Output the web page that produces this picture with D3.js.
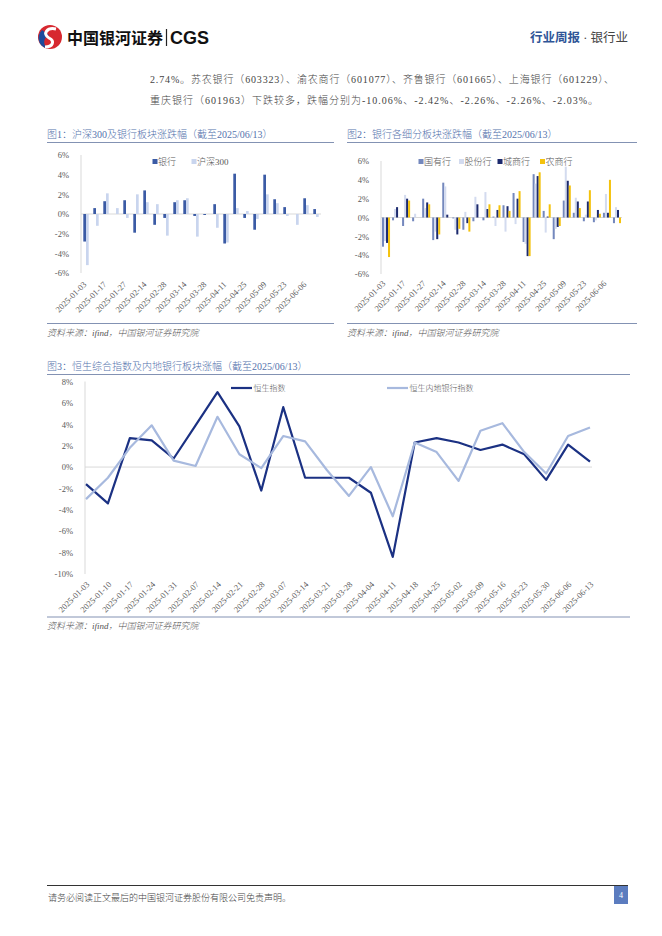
<!DOCTYPE html>
<html>
<head>
<meta charset="utf-8">
<script src="https://cdn.jsdelivr.net/npm/d3@7"></script>
<style>body{margin:0;background:#fff}</style>
</head>
<body>
<svg id="page"></svg>
<script>
// weekly dates used by the two bar charts and the line chart
var weeks = ["2025-01-03","2025-01-10","2025-01-17","2025-01-24","2025-01-27","2025-02-07","2025-02-14","2025-02-21",
  "2025-02-28","2025-03-07","2025-03-14","2025-03-21","2025-03-28","2025-04-03","2025-04-11","2025-04-18",
  "2025-04-25","2025-04-30","2025-05-09","2025-05-16","2025-05-23","2025-05-30","2025-06-06","2025-06-13"];
var weeksHK = ["2025-01-03","2025-01-10","2025-01-17","2025-01-24","2025-01-31","2025-02-07","2025-02-14","2025-02-21",
  "2025-02-28","2025-03-07","2025-03-14","2025-03-21","2025-03-28","2025-04-04","2025-04-11","2025-04-18",
  "2025-04-25","2025-05-02","2025-05-09","2025-05-16","2025-05-23","2025-05-30","2025-06-06","2025-06-13"];

// fig 1
var bank  = [-2.8,0.6,1.3,0,1.4,-1.9,2.4,-1.1,-0.4,1.2,1.4,-0.2,-0.1,1.0,-3.0,4.1,-0.4,-1.6,4.0,1.5,0.7,0,1.6,0.5];
var hs300 = [-5.2,-1.2,2.1,0.6,-0.4,2.0,1.2,1.0,-2.2,1.4,1.6,-2.3,0,-1.4,-2.9,0.6,0.3,-0.5,2.0,1.1,-0.2,-1.1,0.9,-0.3];

// fig 2
var stateBanks = [-3.1,-0.3,-0.9,-0.4,2.0,-2.4,3.7,-0.1,-1.3,-0.4,-0.3,0.1,1.3,2.6,-2.6,4.6,0.7,-2.3,1.8,0.5,-0.4,-0.5,0.5,-0.6];
var jointBanks = [-2.5,0.9,2.4,0.4,1.0,-1.5,3.3,-1.3,0.6,2.2,2.7,-0.9,-1.5,-0.7,-2.8,3.6,-1.6,-1.2,5.4,2.1,0.3,-0.3,2.5,1.1];
var cityBanks  = [-2.7,1.1,2.0,0,1.6,-2.3,0.3,-1.8,-0.6,1.4,0.9,0.8,1.2,2.0,-4.1,4.4,0.1,-1.0,3.9,1.7,1.7,0.8,0.5,0.8];
var ruralBanks = [-4.2,0,1.8,0,1.4,-1.8,0,-1.2,-1.5,0,1.4,1.3,0.7,2.8,-4.1,4.8,1.4,-0.9,3.4,1.0,2.9,0.4,4.0,-0.6];

// fig 3
var hsci = [-1.6,-3.4,2.7,2.5,0.8,3.9,7.0,3.8,-2.2,5.6,-1.0,-1.0,-1.0,-2.4,-8.4,2.3,2.7,2.3,1.6,2.1,1.2,-1.2,2.1,0.5];
var hsmb = [-3.0,-1.0,1.8,3.9,0.6,0.1,4.7,1.2,-0.1,2.9,2.4,-0.3,-2.7,0.0,-4.6,2.3,1.4,-1.3,3.4,4.1,1.4,-0.6,2.9,3.7];

var barTicks = [-6,-4,-2,0,2,4,6];
var lineTicks = [-10,-8,-6,-4,-2,0,2,4,6,8];

var font = "'Liberation Serif','Noto Sans CJK SC',serif";
var sans = "'Noto Sans CJK SC',sans-serif";
var titleColor = "#5573ad";

var svg = d3.select("#page").attr("width", 662).attr("height", 936);
svg.append("rect").attr("width", 662).attr("height", 936).attr("fill", "#fff");

// ---- header
svg.append("circle").attr("cx", 50).attr("cy", 37).attr("r", 12).attr("fill", "#d7282f");
svg.append("path").attr("d", "M42,30 C36,36 38,46 47,48.5 C43,44 43,38 49,35 Z").attr("fill", "#1e4b9c");
svg.append("path").attr("d", "M56,29 C47,27 42,34 49,38 C55,41 53,47 45,47")
  .attr("fill", "none").attr("stroke", "#fff").attr("stroke-width", 3);
svg.append("text").attr("x", 67).attr("y", 44).attr("font-family", sans).attr("font-weight", "bold")
  .attr("font-size", 16).attr("fill", "#111").text("中国银河证券");
svg.append("line").attr("x1", 166.5).attr("x2", 166.5).attr("y1", 29).attr("y2", 46).attr("stroke", "#222").attr("stroke-width", 1.2);
svg.append("text").attr("x", 170).attr("y", 44).attr("font-family", "'Liberation Sans',sans-serif").attr("font-weight", "bold")
  .attr("font-size", 18).attr("fill", "#111").text("CGS");

var rh = svg.append("text").attr("x", 530).attr("y", 42).attr("font-family", font).attr("font-size", 12.5)
  .attr("textLength", 98).attr("lengthAdjust", "spacing");
rh.append("tspan").attr("fill", "#2f5597").attr("font-weight", "bold").text("行业周报");
rh.append("tspan").attr("fill", "#444").text(" · 银行业");

// ---- paragraph
svg.append("text").attr("x", 150).attr("y", 83).attr("font-family", font).attr("font-size", 10).attr("fill", "#444")
  .attr("font-weight", 300).attr("textLength", 464).attr("lengthAdjust", "spacing")
  .text("2.74%。苏农银行（603323）、渝农商行（601077）、齐鲁银行（601665）、上海银行（601229）、");
svg.append("text").attr("x", 150).attr("y", 104).attr("font-family", font).attr("font-size", 10).attr("fill", "#444")
  .attr("font-weight", 300).attr("textLength", 448).attr("lengthAdjust", "spacing")
  .text("重庆银行（601963）下跌较多，跌幅分别为-10.06%、-2.42%、-2.26%、-2.26%、-2.03%。");

function title(x, y, x2, txt) {
  svg.append("text").attr("x", x).attr("y", y).attr("font-family", font).attr("font-size", 10)
    .attr("font-weight", 300).attr("fill", titleColor).text(txt);
  svg.append("line").attr("x1", x).attr("x2", x2).attr("y1", y + 4.5).attr("y2", y + 4.5)
    .attr("stroke", "#8392b3").attr("stroke-width", 1);
}
function source(x, y, x2) {
  svg.append("line").attr("x1", x).attr("x2", x2).attr("y1", y).attr("y2", y)
    .attr("stroke", "#8392b3").attr("stroke-width", 1);
  svg.append("text").attr("x", x).attr("y", y + 12).attr("font-family", font).attr("font-size", 9)
    .attr("font-weight", 300).attr("font-style", "italic").attr("fill", "#555").text("资料来源：ifind，中国银河证券研究院");
}

// ---- bar charts
function barChart(cfg) {
  var g = svg.append("g");
  var x = d3.scaleBand().domain(weeks).range(cfg.xr).paddingInner(cfg.pad).paddingOuter(cfg.pad / 2);
  var inner = d3.scaleBand().domain(d3.range(cfg.series.length)).range([0, x.bandwidth()]);
  var y = d3.scaleLinear().domain([-6, 6]).range(cfg.yr);

  g.append("line").attr("x1", cfg.xr[0]).attr("x2", cfg.xr[0]).attr("y1", y(6)).attr("y2", y(-6)).attr("stroke", "#d9d9d9");
  g.append("line").attr("x1", cfg.xr[0]).attr("x2", cfg.xr[1]).attr("y1", y(0)).attr("y2", y(0)).attr("stroke", "#d9d9d9");

  var yAxis = g.append("g").attr("transform", "translate(" + (cfg.xr[0] - 9) + ",0)")
    .call(d3.axisLeft(y).tickValues(barTicks).tickSize(0).tickFormat(function(d) { return d + "%"; }));
  yAxis.select(".domain").remove();
  yAxis.selectAll("text").attr("font-family", font).attr("font-size", 8.5).attr("fill", "#595959");

  cfg.series.forEach(function(s, i) {
    g.append("g").selectAll("rect").data(s.values).join("rect")
      .attr("x", function(d, j) { return x(weeks[j]) + inner(i); })
      .attr("width", inner.bandwidth())
      .attr("y", function(d) { return y(Math.max(0, d)); })
      .attr("height", function(d) { return Math.abs(y(d) - y(0)); })
      .attr("fill", s.color);
  });

  g.append("g").selectAll("text").data(weeks.filter(function(d, i) { return i % 2 === 0; })).join("text")
    .attr("transform", function(d) {
      return "translate(" + (x(d) + x.bandwidth() / 2 + cfg.lx) + "," + (y(-6) + cfg.ly) + ") rotate(-45)";
    })
    .attr("text-anchor", "end").attr("font-family", font).attr("font-size", 8.5).attr("fill", "#595959")
    .text(function(d) { return d; });

  cfg.series.forEach(function(s, i) {
    g.append("rect").attr("x", cfg.legend[i]).attr("y", cfg.legendY - 5.5).attr("width", 5).attr("height", 5).attr("fill", s.color);
    g.append("text").attr("x", cfg.legend[i] + 5.5).attr("y", cfg.legendY + 0.5).attr("font-family", font)
      .attr("font-weight", 300).attr("font-size", 9).attr("fill", "#595959").text(s.name);
  });
}

title(47, 138, 334, "图1：沪深300及银行板块涨跌幅（截至2025/06/13）");
barChart({
  xr: [81, 321], yr: [273, 155], pad: 0.46, lx: 1, ly: 12,
  series: [{name: "银行", values: bank, color: "#3b5ba5"}, {name: "沪深300", values: hs300, color: "#c9d5ee"}],
  legend: [152.5, 191.5], legendY: 164.5
});
source(47, 323.5, 334);

title(347, 138, 637, "图2：银行各细分板块涨跌幅（截至2025/06/13）");
barChart({
  xr: [381, 622], yr: [274, 161], pad: 0.2, lx: 0, ly: 10,
  series: [
    {name: "国有行", values: stateBanks, color: "#7488bd"},
    {name: "股份行", values: jointBanks, color: "#d3dbef"},
    {name: "城商行", values: cityBanks, color: "#1c2a6e"},
    {name: "农商行", values: ruralBanks, color: "#f4c20d"}
  ],
  legend: [418.5, 459, 497.5, 540], legendY: 164.5
});
source(347, 323.5, 637);

// ---- line chart
title(47, 370, 630, "图3：恒生综合指数及内地银行板块涨幅（截至2025/06/13）");
var x3 = d3.scalePoint().domain(weeksHK).range([86, 590]);
var y3 = d3.scaleLinear().domain([-10, 8]).range([574, 381.5]);
var g3 = svg.append("g");
g3.append("line").attr("x1", 85).attr("x2", 85).attr("y1", y3(8)).attr("y2", y3(-10)).attr("stroke", "#d9d9d9");
g3.append("line").attr("x1", 85).attr("x2", 592).attr("y1", y3(0)).attr("y2", y3(0)).attr("stroke", "#d9d9d9");
var yAx3 = g3.append("g").attr("transform", "translate(76,0)")
  .call(d3.axisLeft(y3).tickValues(lineTicks).tickSize(0).tickFormat(function(d) { return d + "%"; }));
yAx3.select(".domain").remove();
yAx3.selectAll("text").attr("font-family", font).attr("font-size", 8.5).attr("fill", "#595959");

g3.append("g").selectAll("text").data(weeksHK).join("text")
  .attr("transform", function(d) { return "translate(" + (x3(d) + 4) + "," + (y3(-10) + 11) + ") rotate(-45)"; })
  .attr("text-anchor", "end").attr("font-family", font).attr("font-size", 8.5).attr("fill", "#595959")
  .text(function(d) { return d; });

var lineGen = d3.line().x(function(d, i) { return x3(weeksHK[i]); }).y(function(d) { return y3(d); });
var lines = [
  {name: "恒生指数", values: hsci, color: "#1b3183", lx: 231},
  {name: "恒生内地银行指数", values: hsmb, color: "#a7b9de", lx: 387}
];
lines.forEach(function(s) {
  g3.append("path").attr("d", lineGen(s.values)).attr("fill", "none").attr("stroke", s.color)
    .attr("stroke-width", 2.2).attr("stroke-linejoin", "round");
  g3.append("line").attr("x1", s.lx).attr("x2", s.lx + 21).attr("y1", 388).attr("y2", 388)
    .attr("stroke", s.color).attr("stroke-width", 2.2);
  g3.append("text").attr("x", s.lx + 22.5).attr("y", 391).attr("font-family", font).attr("font-size", 8)
    .attr("font-weight", 300).attr("fill", "#595959").text(s.name);
});
source(47, 617, 630);

// ---- footer
svg.append("line").attr("x1", 47).attr("x2", 628).attr("y1", 885.5).attr("y2", 885.5).attr("stroke", "#333").attr("stroke-width", 1);
svg.append("text").attr("x", 48).attr("y", 901).attr("font-family", font).attr("font-size", 9).attr("fill", "#444")
  .attr("font-weight", 300).text("请务必阅读正文最后的中国银河证券股份有限公司免责声明。");
svg.append("rect").attr("x", 614).attr("y", 886).attr("width", 14).attr("height", 18).attr("fill", "#5b7cbf");
svg.append("text").attr("x", 621).attr("y", 898).attr("text-anchor", "middle").attr("font-family", font)
  .attr("font-size", 8).attr("fill", "#fff").text("4");
</script>
</body>
</html>
